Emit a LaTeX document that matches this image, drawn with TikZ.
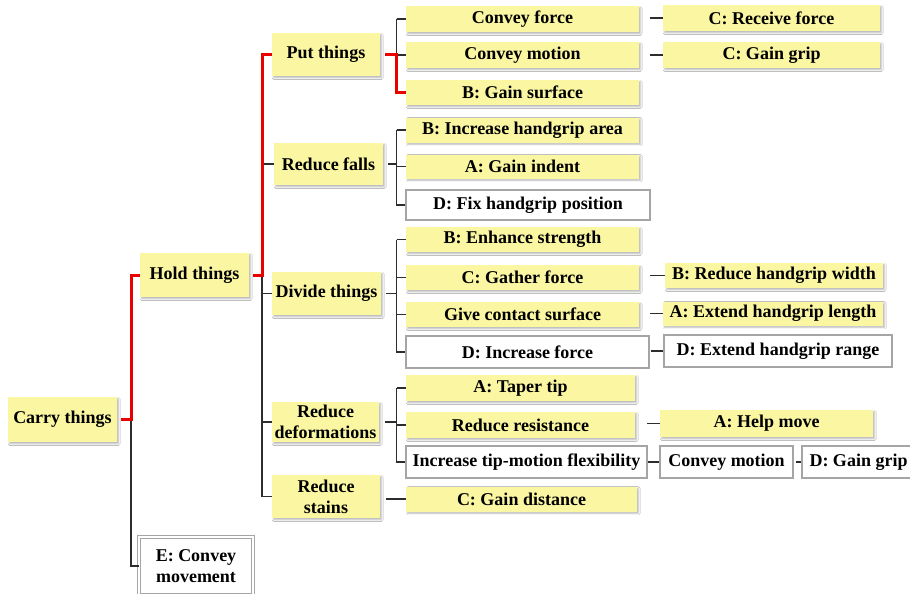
\documentclass[tikz,border=0pt]{standalone}
\usepackage{fontspec}
\setmainfont{Liberation Serif}
\usetikzlibrary{shadows.blur}
\definecolor{notey}{RGB}{250,246,162}
\definecolor{boxgray}{RGB}{165,165,165}
\definecolor{linegray}{RGB}{45,45,45}
\definecolor{pathred}{RGB}{235,0,0}
\tikzset{
  sz/.style 2 args={minimum width=#1pt, minimum height=#2pt},
  note/.style={fill=notey, inner sep=0pt, align=center,
    font=\bfseries\fontsize{18}{21}\selectfont,
    blur shadow={shadow xshift=1.6pt, shadow yshift=-1.8pt, shadow blur steps=6,
      shadow opacity=28, shadow blur radius=1.6pt}},
  wbox/.style={draw=boxgray, line width=1.4pt, fill=white, inner sep=0pt, align=center,
    font=\bfseries\fontsize{18}{21}\selectfont},
  dbox/.style={wbox, double=white, double distance=2pt, line width=1pt},
  link/.style={draw=linegray, line width=1.2pt},
  hot/.style={draw=pathred, line width=3pt, line join=miter},
}
\begin{document}
\begin{tikzpicture}[x=1pt, y=-1pt]
\useasboundingbox[fill=white] (0,0) rectangle (910,594);

% ---- root and first level
\node[note, sz={109}{45}] (carry) at (62.5,419.5) {Carry things};
\node[dbox, sz={114}{58}] (move) at (196,566) {E: Convey\\movement};
\node[note, sz={109}{44}] (hold) at (194.5,275) {Hold things};

% ---- second level
\node[note, sz={108}{43}] (put)    at (326,54.5)   {Put things};
\node[note, sz={109}{42}] (falls)  at (328.5,164)  {Reduce falls};
\node[note, sz={109}{43}] (divide) at (326.5,293.5){Divide things};
\node[note, sz={107}{40}] (deform) at (325.5,422)  {Reduce\\deformations};
\node[note, sz={108}{43}] (stains) at (326,496.5)  {Reduce\\stains};

% ---- third level
\node[note, sz={233}{26}] (cforce)  at (522.5,19)   {Convey force};
\node[note, sz={233}{26}] (cmotion) at (522.5,55)   {Convey motion};
\node[note, sz={233}{25}] (surface) at (522.5,92.5) {B: Gain surface};
\node[note, sz={233}{25}] (area)    at (522.5,130)  {B: Increase handgrip area};
\node[note, sz={233}{24}] (indent)  at (522.5,166.5){A: Gain indent};
\node[wbox, sz={244}{30}] (fixpos)  at (528,205)    {D: Fix handgrip position};
\node[note, sz={233}{25}] (strength) at (522.5,239.5){B: Enhance strength};
\node[note, sz={233}{25}] (gather)  at (522.5,277.5){C: Gather force};
\node[note, sz={233}{25}] (contact) at (522.5,314.5){Give contact surface};
\node[wbox, sz={243}{32}] (incforce) at (527.5,352) {D: Increase force};
\node[note, sz={229}{26}] (taper)   at (520.5,388)  {A: Taper tip};
\node[note, sz={229}{26}] (resist)  at (520.5,425)  {Reduce resistance};
\node[wbox, sz={241}{32}] (flex)    at (526.5,462)  {Increase tip-motion flexibility};
\node[note, sz={231}{25}] (distance) at (521.5,499) {C: Gain distance};

% ---- fourth level
\node[note, sz={217}{26}] (receive) at (771.5,18)   {C: Receive force};
\node[note, sz={217}{26}] (grip)    at (771.5,55)   {C: Gain grip};
\node[note, sz={218}{25}] (width)   at (774,275.5)  {B: Reduce handgrip width};
\node[note, sz={220}{24}] (length)  at (773,313.5)  {A: Extend handgrip length};
\node[wbox, sz={228}{32}] (range)   at (778,351)    {D: Extend handgrip range};
\node[note, sz={213}{27}] (helpmove) at (766.5,423.5){A: Help move};
\node[wbox, sz={133}{32}] (cmotion2) at (726.5,462) {Convey motion};
\node[wbox, sz={113}{32}] (gripd)   at (858.5,462)  {D: Gain grip};

% trunk positions of each fan-out
\coordinate (t1) at (131,0);
\coordinate (t2) at (262,0);
\coordinate (t3) at (396.5,0);

% ---- plain connectors
\draw[link] ([xshift=4pt]carry.east) -- (carry.east -| t1) |- (move.west);
\draw[link] (put.west -| t2) |- (stains.west);
\draw[link] (falls.west -| t2) -- (falls.west);
\draw[link] (divide.west -| t2) -- (divide.west);
\draw[link] (deform.west -| t2) -- (deform.west);

% Put things
\draw[link] (cforce.west -| t3) -- (cforce.west);
\draw[link] (cforce.west -| t3) -- (cmotion.west -| t3) -- (cmotion.west);
% Reduce falls
\draw[link] ([xshift=5pt]falls.east) -- (falls.east -| t3);
\draw[link] (area.west -| t3) -- (area.west);
\draw[link] (indent.west -| t3) -- (indent.west);
\draw[link] (area.west -| t3) |- (fixpos.west);
% Divide things
\draw[link] ([xshift=5pt]divide.east) -- (divide.east -| t3);
\draw[link] (strength.west -| t3) -- (strength.west);
\draw[link] (gather.west -| t3) -- (gather.west);
\draw[link] (contact.west -| t3) -- (contact.west);
\draw[link] (strength.west -| t3) |- (incforce.west);
% Reduce deformations
\draw[link] ([xshift=6pt]deform.east) -- (deform.east -| t3);
\draw[link] (taper.west -| t3) -- (taper.west);
\draw[link] (resist.west -| t3) -- (resist.west);
\draw[link] (taper.west -| t3) |- (flex.west);
% Reduce stains
\draw[link] ([xshift=6pt]stains.east |- distance.west) -- (distance.west);

% right-hand links, level with the node they lead to
\draw[link] ([xshift=11pt]cforce.east |- receive.west) -- (receive.west);
\draw[link] ([xshift=11pt]cmotion.east |- grip.west) -- (grip.west);
\draw[link] ([xshift=11pt]gather.east |- width.west) -- (width.west);
\draw[link] ([xshift=11pt]contact.east |- length.west) -- (length.west);
\draw[link] ([xshift=1pt]incforce.east |- range.west) -- (range.west);
\draw[link] ([xshift=12pt]resist.east |- helpmove.west) -- (helpmove.west);
\draw[link] (flex.east) -- (cmotion2.west);
\draw[link] ([xshift=2pt]cmotion2.east) -- (gripd.west);

% ---- highlighted path
\draw[hot] ([xshift=4pt]carry.east) -- (carry.east -| t1) |- (hold.west);
\draw[hot] ([xshift=4pt]hold.east) -- (hold.east -| t2) |- (put.west);
\draw[hot] ([xshift=5pt]put.east) -- (put.east -| t3) |- (surface.west);
\end{tikzpicture}
\end{document}
